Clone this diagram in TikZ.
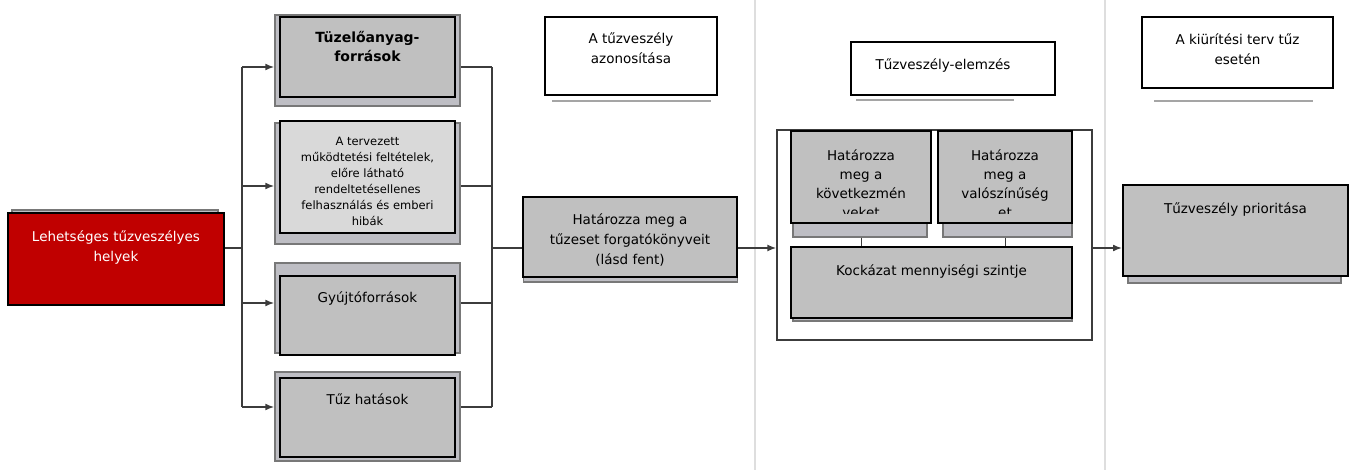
\documentclass[tikz,border=0pt]{standalone}
\usepackage{fontspec}
\setmainfont{DejaVu Sans}
\usetikzlibrary{positioning,arrows.meta}
\definecolor{firered}{RGB}{192,0,0}
\definecolor{boxgray}{RGB}{192,192,192}
\definecolor{lightbox}{RGB}{217,217,217}
\definecolor{shadowgray}{RGB}{190,190,196}
\definecolor{shadowedge}{RGB}{120,120,120}
\definecolor{lineclr}{RGB}{60,60,60}
\definecolor{sepclr}{RGB}{222,222,222}
\definecolor{ulineclr}{RGB}{165,165,165}

\begin{document}
\begin{tikzpicture}[x=1pt,y=-1pt,
    every node/.style={inner sep=0pt},
    mainbox/.style={draw=black,line width=2pt,fill=boxgray},
    shadowbox/.style={draw=shadowedge,line width=1.5pt,fill=shadowgray},
    titlebox/.style={draw=black,line width=2pt,fill=white},
    lbl/.style={align=center,font=\fontsize{13.5}{20}\selectfont},
    conn/.style={draw=lineclr,line width=1.6pt},
    uline/.style={draw=ulineclr,line width=2.5pt},
    >={Latex[length=9pt,width=7pt]}]
    \useasboundingbox (0,0) rectangle (1355,470);

    % column separators
    \draw[sepclr,line width=1.2pt] (755,0) -- (755,470);
    \draw[sepclr,line width=1.2pt] (1105,0) -- (1105,470);

    % starting point
    \node[shadowbox,minimum width=206pt,minimum height=40pt] (redsh) at (115,230) {};
    \node[draw=black,line width=2pt,fill=firered,minimum width=216pt,minimum height=92pt] (red) at (116,259) {};
    \node[lbl,text=white,below=19pt of red.north] (redtxt) {Lehetséges tűzveszélyes\\helyek};

    % sources
    \node[shadowbox,minimum width=185pt,minimum height=91pt] (fuelsh) at (367.5,60.5) {};
    \node[mainbox,minimum width=175pt,minimum height=80pt] (fuel) at (367.5,57) {};
    \node[lbl,font=\fontsize{14}{19}\selectfont\bfseries,below=15pt of fuel.north] (fueltxt) {Tüzelőanyag-\\források};

    \node[shadowbox,minimum width=185pt,minimum height=121pt] (condsh) at (367.5,183.5) {};
    \node[mainbox,fill=lightbox,minimum width=175pt,minimum height=112pt] (cond) at (367.5,177) {};
    \node[lbl,font=\fontsize{11.5}{16}\selectfont,below=17pt of cond.north] (condtxt) {A tervezett\\működtetési feltételek,\\előre látható\\rendeltetésellenes\\felhasználás és emberi\\hibák};

    \node[shadowbox,minimum width=185pt,minimum height=90pt] (ignsh) at (367.5,308) {};
    \node[mainbox,minimum width=175pt,minimum height=79pt] (ign) at (367.5,315.5) {};
    \node[lbl,below=17pt of ign.north] (igntxt) {Gyújtóforrások};

    \node[shadowbox,minimum width=185pt,minimum height=89pt] (effsh) at (367.5,416.5) {};
    \node[mainbox,minimum width=175pt,minimum height=79pt] (eff) at (367.5,417.5) {};
    \node[lbl,below=17pt of eff.north] (efftxt) {Tűz hatások};

    % scenarios
    \node[shadowbox,minimum width=214pt,minimum height=70pt] (scensh) at (630.5,247) {};
    \node[mainbox,minimum width=214pt,minimum height=80pt] (scen) at (630,237) {};
    \node[lbl,below=18pt of scen.north] (scentxt) {Határozza meg a\\tűzeset forgatókönyveit\\(lásd fent)};

    % column titles
    \node[titlebox,minimum width=172pt,minimum height=78pt] (ident) at (631,56) {};
    \node[lbl,below=17pt of ident.north] (identtxt) {A tűzveszély\\azonosítása};
    \draw[uline] ([xshift=8pt,yshift=-5pt]ident.south west) -- ([xshift=-7pt,yshift=-5pt]ident.south east);

    \node[titlebox,minimum width=204pt,minimum height=53pt] (anal) at (953,68.5) {};
    \node[lbl,below=18pt of anal.north,xshift=-10pt] (analtxt) {Tűzveszély-elemzés};
    \draw[uline] ([xshift=6pt,yshift=-4pt]anal.south west) -- ([xshift=-42pt,yshift=-4pt]anal.south east);

    \node[titlebox,minimum width=191pt,minimum height=71pt] (evac) at (1237.5,52.5) {};
    \node[lbl,below=18pt of evac.north] (evactxt) {A kiürítési terv tűz\\esetén};
    \draw[uline] ([xshift=13pt,yshift=-12pt]evac.south west) -- ([xshift=-21pt,yshift=-12pt]evac.south east);

    % analysis frame
    \node[draw=lineclr,line width=1.3pt,fill=white,minimum width=315pt,minimum height=210pt] (frame) at (934.5,235) {};

    \node[shadowbox,minimum width=134pt,minimum height=22pt] (conseqsh) at (860,226) {};
    \node[mainbox,minimum width=140pt,minimum height=92pt] (conseq) at (861,177) {};
    \begin{scope}
        \clip (conseq.north west) rectangle ([yshift=10pt]conseq.south east);
        \node[lbl,font=\fontsize{13.5}{19}\selectfont,below=20pt of conseq.north] (conseqtxt) {Határozza\\meg a\\következmén\\yeket};
    \end{scope}

    \node[shadowbox,minimum width=129pt,minimum height=22pt] (probsh) at (1007.5,226) {};
    \node[mainbox,minimum width=134pt,minimum height=92pt] (prob) at (1005,177) {};
    \begin{scope}
        \clip (prob.north west) rectangle ([yshift=10pt]prob.south east);
        \node[lbl,font=\fontsize{13.5}{19}\selectfont,below=20pt of prob.north] (probtxt) {Határozza\\meg a\\valószínűség\\et};
    \end{scope}

    \node[shadowbox,minimum width=279pt,minimum height=21pt] (risksh) at (932.5,310.5) {};
    \node[mainbox,minimum width=281pt,minimum height=71pt] (risk) at (931.5,282.5) {};
    \node[lbl,below=19pt of risk.north] (risktxt) {Kockázat mennyiségi szintje};

    \draw[lineclr,line width=0.8pt] (conseqsh.south -| conseq.south) -- (conseq.south |- risk.north);
    \draw[lineclr,line width=0.8pt] (probsh.south -| prob.south) -- (prob.south |- risk.north);

    % priority
    \node[shadowbox,minimum width=213pt,minimum height=23pt] (priosh) at (1234.5,271.5) {};
    \node[mainbox,minimum width=225pt,minimum height=91pt] (prio) at (1235.5,230.5) {};
    \node[lbl,below=19pt of prio.north] (priotxt) {Tűzveszély prioritása};

    % buses
    \coordinate (lbus) at (242,248);
    \coordinate (rbus) at (492,248);
    \coordinate (l1) at (242,67);
    \coordinate (l2) at (242,186);
    \coordinate (l3) at (242,303);
    \coordinate (l4) at (242,407);
    \coordinate (r1) at (492,67);
    \coordinate (r2) at (492,186);
    \coordinate (r3) at (492,303);
    \coordinate (r4) at (492,407);

    \draw[conn] (lbus -| red.east) -- (lbus);
    \draw[conn] (l1) -- (l4);
    \draw[conn] (r1) -- (r4);
    \foreach \c/\b in {1/fuelsh,2/condsh,3/ignsh,4/effsh}{
        \draw[conn,->] (l\c) -- (l\c -| \b.west);
        \draw[conn] (r\c -| \b.east) -- (r\c);
    }

    \draw[conn] (rbus) -- (rbus -| scen.west);
    \draw[conn,->] (rbus -| scen.east) -- (rbus -| frame.west);
    \draw[conn,->] (rbus -| frame.east) -- (rbus -| prio.west);
\end{tikzpicture}
\end{document}
